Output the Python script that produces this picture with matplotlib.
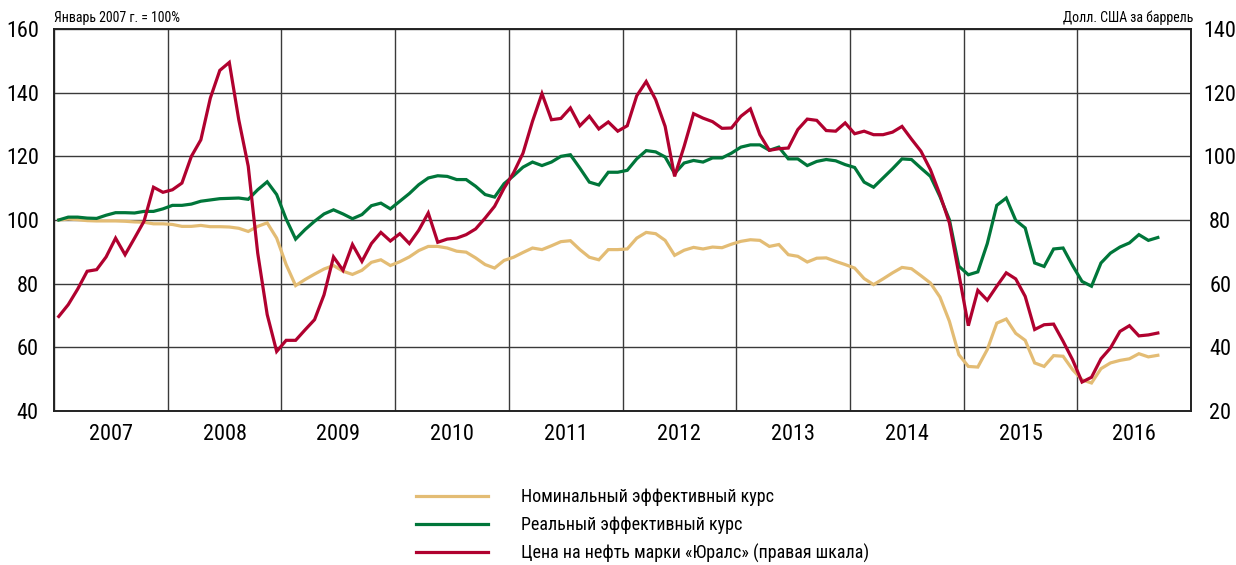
import numpy as np
import matplotlib
matplotlib.use('Agg')
import matplotlib.pyplot as plt
from matplotlib import font_manager

# monthly data, Jan 2007 - Sep 2016
years = ['2007', '2008', '2009', '2010', '2011', '2012', '2013', '2014', '2015', '2016']

nominal = [100.0, 100.3, 100.1, 99.8, 99.7, 99.7, 99.7, 99.6, 99.4, 99.3, 98.8, 98.8,
           98.6, 98.0, 98.0, 98.3, 97.9, 97.9, 97.8, 97.4, 96.4, 98.0, 99.1, 94.3,
           86.0, 79.4, 81.3, 83.0, 84.6, 85.7, 83.9, 82.9, 84.2, 86.7, 87.5, 85.7,
           86.9, 88.4, 90.4, 91.7, 91.7, 91.2, 90.2, 89.9, 88.1, 86.0, 84.9, 87.3,
           88.3, 89.8, 91.2, 90.7, 91.9, 93.2, 93.5, 90.7, 88.3, 87.5, 90.7, 90.7,
           90.9, 94.3, 96.1, 95.7, 93.6, 88.9, 90.5, 91.4, 90.9, 91.5, 91.3, 92.4,
           93.3, 93.8, 93.6, 91.7, 92.3, 89.1, 88.6, 86.8, 88.0, 88.1, 87.0, 86.0,
           84.9, 81.6, 79.7, 81.5, 83.4, 85.1, 84.7, 82.5, 80.2, 75.8, 68.2, 57.7,
           54.0, 53.8, 59.3, 67.6, 68.9, 64.4, 62.2, 55.1, 54.0, 57.4, 57.2, 53.0,
           49.8, 48.8, 53.3, 55.1, 55.9, 56.4, 58.0, 57.0, 57.5]

real = [100.0, 100.9, 100.9, 100.6, 100.5, 101.5, 102.3, 102.3, 102.2, 102.7, 102.7, 103.5,
        104.6, 104.6, 105.0, 105.9, 106.3, 106.7, 106.8, 106.9, 106.5, 109.5, 112.0, 108.0,
        100.3, 94.0, 97.0, 99.6, 101.9, 103.2, 101.9, 100.4, 101.7, 104.5, 105.3, 103.5,
        105.9, 108.3, 111.1, 113.2, 113.9, 113.7, 112.7, 112.7, 110.6, 108.0, 107.2, 111.4,
        113.9, 116.6, 118.2, 117.1, 118.2, 120.0, 120.5, 116.3, 111.9, 111.0, 115.0, 115.0,
        115.6, 119.2, 121.8, 121.4, 119.8, 114.6, 117.9, 118.7, 118.2, 119.5, 119.5, 121.0,
        122.9, 123.6, 123.6, 121.9, 122.9, 119.2, 119.2, 117.1, 118.4, 119.0, 118.6, 117.4,
        116.5, 111.9, 110.3, 113.2, 116.1, 119.2, 119.0, 116.3, 113.7, 107.4, 100.1, 85.5,
        82.8, 83.7, 92.6, 104.6, 106.9, 99.9, 97.5, 86.5, 85.4, 90.9, 91.2, 85.7,
        80.7, 79.2, 86.5, 89.6, 91.5, 92.8, 95.4, 93.6, 94.5]

urals = [49.7, 53.4, 58.3, 63.9, 64.4, 68.4, 74.3, 69.1, 74.3, 79.6, 90.3, 88.7,
         89.5, 91.6, 100.0, 105.2, 118.3, 127.0, 129.5, 111.5, 96.9, 69.6, 50.3, 38.7,
         42.2, 42.2, 45.5, 48.7, 56.5, 68.4, 64.2, 72.3, 67.0, 72.6, 76.1, 73.4,
         75.7, 72.6, 76.8, 82.2, 73.0, 74.0, 74.3, 75.4, 77.2, 80.6, 84.3, 90.0,
         94.8, 101.0, 111.0, 119.7, 111.5, 111.9, 115.2, 109.6, 112.6, 108.6, 110.8, 107.9,
         109.6, 119.0, 123.5, 117.8, 109.4, 93.7, 103.1, 113.4, 112.0, 110.9, 108.8, 108.9,
         112.6, 114.9, 106.8, 101.9, 102.4, 102.6, 108.4, 111.7, 111.3, 108.1, 107.9, 110.5,
         107.1, 107.9, 106.8, 106.8, 107.6, 109.4, 105.4, 101.6, 95.8, 88.0, 79.1, 63.0,
         46.8, 57.9, 54.8, 59.2, 63.4, 61.5, 56.0, 45.6, 47.1, 47.3, 41.9, 36.1,
         29.1, 30.6, 36.4, 39.8, 45.0, 46.8, 43.6, 43.9, 44.5]

labels = ['Номинальный эффективный курс',
          'Реальный эффективный курс',
          'Цена на нефть марки «Юралс» (правая шкала)']

# pick a narrow font if there is one
names = set(f.name for f in font_manager.fontManager.ttflist)
family = 'DejaVu Sans'
for cand in ['Liberation Sans Narrow', 'Roboto Condensed', 'DejaVu Sans Condensed', 'Liberation Sans']:
    if cand in names:
        family = cand
        break
plt.rcParams['font.family'] = [family, 'DejaVu Sans']

c_nom = '#E3BC74'
c_real = '#00763A'
c_oil = '#B0012F'

fig = plt.figure(figsize=(12.36, 5.65), dpi=100)
ax = fig.add_axes([54/1236, 1-411/565, 1137/1236, 382/565])
ax2 = ax.twinx()

x = np.arange(len(nominal)) + 0.5
ax.plot(x, nominal, color=c_nom, lw=2.3, label=labels[0], solid_joinstyle='miter')
ax.plot(x, real, color=c_real, lw=2.3, label=labels[1], solid_joinstyle='miter')
ax2.plot(x, urals, color=c_oil, lw=2.3, label=labels[2], solid_joinstyle='miter')

ax.set_xlim(0, 120)
ax.set_ylim(40, 160)
ax2.set_ylim(20, 140)

ax.set_xticks(np.arange(0, 121, 12))
ax.set_xticks(np.arange(6, 120, 12), minor=True)
ax.set_xticklabels([])
ax.set_xticklabels(years, minor=True)
ax.tick_params(axis='x', which='both', length=0, pad=9, labelsize=16)
ax.grid(True, which='major', color='#3a3a3a', lw=1.0)
ax.set_axisbelow(True)

ax.set_yticks(np.arange(40, 161, 20))
ax.tick_params(axis='y', length=0, pad=11, labelsize=16)
ax2.set_yticks(np.arange(20, 141, 20))
ax2.tick_params(axis='y', length=0, pad=21, labelsize=16)
for t in ax2.get_yticklabels():
    t.set_horizontalalignment('center')

for a in [ax, ax2]:
    for s in a.spines.values():
        s.set_color('#222222')
        s.set_linewidth(1.2)

ax.text(0.0, 1.01, 'Январь 2007 г. = 100%', transform=ax.transAxes,
        ha='left', va='bottom', fontsize=10)
ax.text(1.002, 1.01, 'Долл. США за баррель', transform=ax.transAxes,
        ha='right', va='bottom', fontsize=10)

h1, l1 = ax.get_legend_handles_labels()
h2, l2 = ax2.get_legend_handles_labels()
fig.legend(h1 + h2, l1 + l2, loc='upper left', bbox_to_anchor=(416/1236, 1-488/565),
           frameon=False, fontsize=13, handlelength=4.0, handletextpad=1.8,
           labelspacing=0.55, borderpad=0, borderaxespad=0)

fig.savefig('out.png', dpi=100)
